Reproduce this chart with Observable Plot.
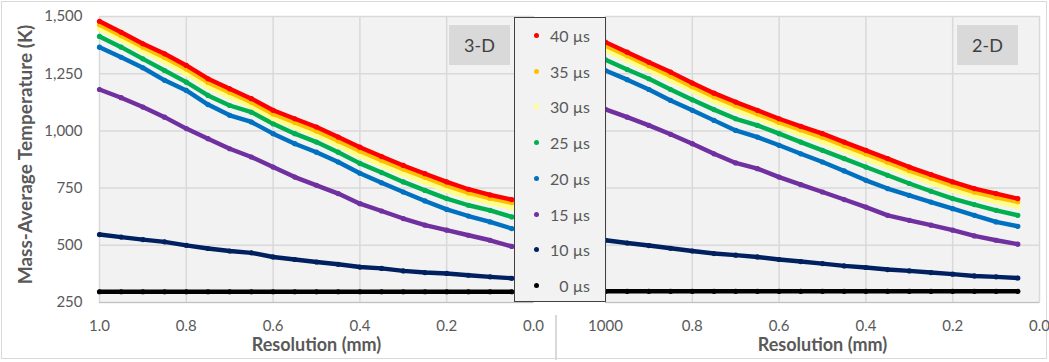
<!DOCTYPE html>
<html><head><meta charset="utf-8">
<script src="https://cdn.jsdelivr.net/npm/d3@7"></script>
<script src="https://cdn.jsdelivr.net/npm/@observablehq/plot@0.6"></script>
<style>
body{margin:0;background:#fff;}
#wrap{position:relative;width:1049px;height:362px;overflow:hidden;font-family:Lato,sans-serif;background:#fff;}
#frame{position:absolute;left:1px;top:1px;width:1044px;height:356px;border:1.5px solid #d9d9d9;}
#divider{position:absolute;left:555px;top:315px;width:1.5px;height:45px;background:#d9d9d9;}
.panel{position:absolute;top:0;}
.tag{position:absolute;top:25px;width:61px;height:40px;background:#d9d9d9;color:#404040;font-size:18px;line-height:40px;text-align:center;}
#legend{position:absolute;left:514px;top:17px;width:90px;height:283px;border:1px solid #404040;background:#f2f2f2;}
.lrow{position:absolute;left:0;width:90px;height:20px;}
.ldot{position:absolute;left:19px;top:7px;width:5px;height:5px;border-radius:50%;}
.ltxt{position:absolute;right:15px;top:0;font-size:16px;line-height:20px;color:#595959;white-space:pre;}
</style></head><body><div id="wrap"><div id="frame"></div><div id="divider"></div></div>
<script>
// ---- data ----
const resolution = [1.0,0.95,0.9,0.85,0.8,0.75,0.7,0.65,0.6,0.55,0.5,0.45,0.4,0.35,0.3,0.25,0.2,0.15,0.1,0.05];
const seriesLabels = ["0 µs","10 µs","15 µs","20 µs","25 µs","30 µs","35 µs","40 µs"];
const seriesColors = ["#000000","#002060","#7030a0","#0070c0","#00b050","#ffff88","#ffc000","#ff0000"];

const threeD_0  = [297,297,297,297,297,297,297,297,297,297,297,297,297,297,297,297,297,297,297,297];
const threeD_10 = [547,536,525,515,500,486,475,467,449,438,427,417,405,399,388,381,377,369,362,356];
const threeD_15 = [1181,1145,1104,1060,1010,966,922,886,842,798,762,726,682,650,617,588,566,544,522,495];
const threeD_20 = [1366,1322,1276,1221,1177,1115,1068,1039,988,944,907,864,815,773,733,694,657,628,602,573];
const threeD_25 = [1413,1366,1315,1264,1213,1155,1111,1082,1031,988,951,907,858,818,777,740,704,675,653,624];
const threeD_30 = [1446,1398,1348,1302,1250,1192,1148,1106,1054,1017,980,936,890,850,811,775,740,709,685,664];
const threeD_35 = [1464,1416,1366,1321,1270,1212,1168,1125,1074,1037,1000,956,912,871,833,797,761,729,705,686];
const threeD_40 = [1479,1431,1381,1337,1286,1228,1184,1141,1090,1053,1017,973,929,888,849,813,777,745,720,700];

const twoD_0  = [299,299,299,299,299,299,299,299,299,299,299,299,299,299,299,299,299,299,299,299];
const twoD_10 = [522,510,499,487,475,464,457,449,438,429,420,410,403,394,388,381,374,366,362,357];
const twoD_15 = [1094,1060,1024,985,944,900,860,835,798,765,733,700,667,631,609,588,566,541,522,505];
const twoD_20 = [1264,1224,1181,1133,1090,1046,1002,973,937,900,864,825,784,748,718,689,660,631,602,583];
const twoD_25 = [1311,1268,1228,1181,1136,1093,1053,1024,988,951,915,879,842,806,770,736,704,678,653,631];
const twoD_30 = [1352,1308,1266,1221,1175,1130,1091,1056,1019,985,952,916,879,843,807,773,741,713,690,668];
const twoD_35 = [1372,1328,1284,1240,1193,1149,1110,1074,1037,1004,972,935,899,863,826,793,761,732,710,690];
const twoD_40 = [1388,1344,1300,1257,1209,1165,1126,1090,1053,1020,988,951,915,879,842,809,777,748,726,704];

const xTicks = [1.0,0.8,0.6,0.4,0.2,0.0];
const xTickLabels3D = ["1.0","0.8","0.6","0.4","0.2","0.0"];
const xTickLabels2D = ["1000","0.8","0.6","0.4","0.2","0.0"];
const yTicks = [250,500,750,1000,1250,1500];
const xTitle = "Resolution (mm)";
const yTitle = "Mass-Average Temperature (K)";

// ---- drawing ----
function panel(seriesValues, tickLabels, opt) {
  const marks = [
    Plot.frame({fill:"#f2f2f2", stroke:"#d9d9d9"}),
    Plot.gridY(yTicks, {stroke:"#d9d9d9", strokeOpacity:1, strokeWidth:1.5}),
    Plot.gridX(xTicks, {stroke:"#d9d9d9", strokeOpacity:1, strokeWidth:1.5}),
    Plot.ruleY([250], {stroke:"#bfbfbf", strokeWidth:1.2}),
    Plot.axisX(xTicks, {tickSize:0, tickPadding:18, fontSize:15, label:null,
      tickFormat: d => tickLabels[Math.round((1 - d) * 5)]}),
    Plot.text([xTitle], {frameAnchor:"bottom", dy:48, fontSize:18, fontWeight:"bold", fill:"#595959"})
  ];
  if (opt.yAxis) {
    marks.push(Plot.axisY(yTicks, {tickSize:0, tickPadding:17, fontSize:15, label:null, tickFormat: d3.format(",")}));
    marks.push(Plot.text([yTitle], {frameAnchor:"left", textAnchor:"middle", dx:-74, dy:-5, rotate:-90, fontSize:19, fontWeight:"bold", fill:"#595959"}));
  }
  seriesValues.forEach((vals, k) => {
    const data = resolution.map((r, i) => ({x: r, y: vals[i]}));
    marks.push(Plot.line(data, {x:"x", y:"y", stroke: seriesColors[k], strokeWidth:4.4}));
    marks.push(Plot.dot(data, {x:"x", y:"y", fill: seriesColors[k], r:2.6}));
  });
  return Plot.plot({
    width: opt.width, height: 362,
    marginLeft: opt.ml, marginRight: opt.mr, marginTop: 16, marginBottom: 60,
    style: {fontFamily: "Lato, sans-serif", color: "#595959", background: "transparent", overflow:"visible"},
    x: {domain:[1,0], axis:null},
    y: {domain:[250,1500], axis:null},
    marks
  });
}

const wrap = document.getElementById("wrap");
const left = panel([threeD_0,threeD_10,threeD_15,threeD_20,threeD_25,threeD_30,threeD_35,threeD_40], xTickLabels3D, {width:555, ml:99, mr:22, yAxis:true});
left.classList.add("panel"); left.style.left = "0px";
wrap.appendChild(left);
const right = panel([twoD_0,twoD_10,twoD_15,twoD_20,twoD_25,twoD_30,twoD_35,twoD_40], xTickLabels2D, {width:494, ml:50, mr:10, yAxis:false});
right.classList.add("panel"); right.style.left = "555px";
wrap.appendChild(right);

function tag(text, leftPx) {
  const d = document.createElement("div");
  d.className = "tag"; d.textContent = text; d.style.left = leftPx + "px";
  wrap.appendChild(d);
}
tag("3-D", 449);
tag("2-D", 957);

const legend = document.createElement("div");
legend.id = "legend";
for (let k = seriesLabels.length - 1, row = 0; k >= 0; k--, row++) {
  const r = document.createElement("div");
  r.className = "lrow";
  r.style.top = (8 + row * 35.7) + "px";
  const dot = document.createElement("div");
  dot.className = "ldot"; dot.style.background = seriesColors[k];
  const t = document.createElement("div");
  t.className = "ltxt"; t.textContent = seriesLabels[k];
  r.appendChild(dot); r.appendChild(t);
  legend.appendChild(r);
}
wrap.appendChild(legend);
</script></body></html>
